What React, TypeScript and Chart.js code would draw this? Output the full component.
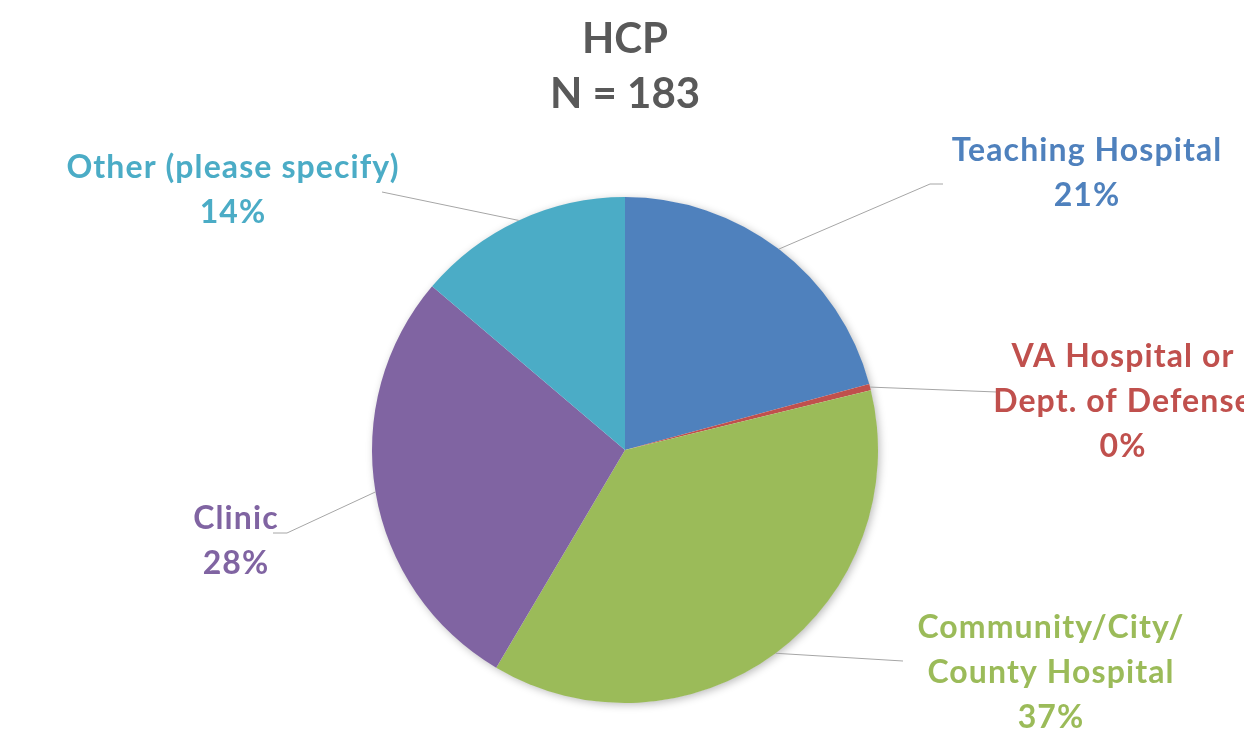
import React, { useEffect, useRef } from "react";
import { Chart, registerables } from "chart.js";

Chart.register(...registerables);

const TITLE_LINES = ["HCP", "N = 183"];
const CATEGORIES = [
  ["Teaching Hospital"],
  ["VA Hospital or", "Dept. of Defense"],
  ["Community/City/", "County Hospital"],
  ["Clinic"],
  ["Other (please specify)"],
];
const VALUES = [20.8, 0.4, 37.3, 27.7, 13.8];
const COLORS = ["#4F81BD", "#C0504D", "#9BBB59", "#8064A2", "#4BACC6"];

// label layout: offsets from pie centre (px)
const LABEL_LAYOUT = [
  { tx: 462, ty: -289, pts: [[305, -266], [318, -266]] },
  { tx: 498, ty: -83, pts: [[372, -58]] },
  { tx: 426, ty: 188, pts: [[278, 211]] },
  { tx: -389, ty: 79, pts: [[-338, 83], [-352, 83]] },
  { tx: -392, ty: -272, pts: [[-243, -258]] },
];

const FONT = "Lato, 'Open Sans', sans-serif";

const labelPlugin = {
  id: "pieLabels",
  beforeDatasetsDraw(chart: any) {
    const meta = chart.getDatasetMeta(0);
    const arc = meta.data[0];
    if (!arc) return;
    const { x, y, outerRadius } = arc.getProps(["x", "y", "outerRadius"], true);
    const ctx = chart.ctx;
    ctx.save();
    ctx.shadowColor = "rgba(0,0,0,0.28)";
    ctx.shadowBlur = 8;
    ctx.shadowOffsetX = 2;
    ctx.shadowOffsetY = 2;
    ctx.fillStyle = "#ffffff";
    ctx.beginPath();
    ctx.arc(x, y, outerRadius - 0.5, 0, Math.PI * 2);
    ctx.fill();
    ctx.restore();
  },
  afterDraw(chart: any) {
    const ctx = chart.ctx;
    const meta = chart.getDatasetMeta(0);
    const total = VALUES.reduce((a, b) => a + b, 0);
    meta.data.forEach((arc: any, i: number) => {
      const { x, y, startAngle, endAngle, outerRadius } = arc.getProps(
        ["x", "y", "startAngle", "endAngle", "outerRadius"],
        true
      );
      const mid = (startAngle + endAngle) / 2;
      const px = x + Math.cos(mid) * outerRadius;
      const py = y + Math.sin(mid) * outerRadius;
      const lay = LABEL_LAYOUT[i];
      ctx.save();
      ctx.strokeStyle = "#a6a6a6";
      ctx.lineWidth = 1;
      ctx.beginPath();
      ctx.moveTo(px, py);
      lay.pts.forEach((p) => ctx.lineTo(x + p[0], y + p[1]));
      ctx.stroke();
      const lines = [...CATEGORIES[i], Math.round((VALUES[i] / total) * 100) + "%"];
      ctx.fillStyle = COLORS[i];
      ctx.font = `bold 32px ${FONT}`;
      (ctx as any).letterSpacing = "1.1px";
      ctx.textAlign = "center";
      ctx.textBaseline = "alphabetic";
      lines.forEach((t, j) => ctx.fillText(t, x + lay.tx, y + lay.ty + j * 45));
      ctx.restore();
    });
    // title
    const cx = (chart.chartArea.left + chart.chartArea.right) / 2;
    ctx.save();
    ctx.fillStyle = "#595959";
    ctx.font = `bold 42px ${FONT}`;
    ctx.textAlign = "center";
    ctx.textBaseline = "alphabetic";
    ctx.fillText(TITLE_LINES[0], cx, 53);
    ctx.fillText(TITLE_LINES[1], cx, 108);
    ctx.restore();
  },
};

export default function App() {
  const ref = useRef<HTMLCanvasElement>(null);
  useEffect(() => {
    if (!ref.current) return;
    const chart = new Chart(ref.current, {
      type: "pie",
      data: {
        labels: CATEGORIES.map((c) => c.join(" ")),
        datasets: [
          {
            data: VALUES,
            backgroundColor: COLORS,
            borderWidth: 0,
          },
        ],
      },
      options: {
        responsive: false,
        animation: false,
        layout: { padding: { top: 197, bottom: 28, left: 6, right: 0 } },
        plugins: {
          legend: { display: false },
          tooltip: { enabled: false },
          title: { display: false },
        },
      },
      plugins: [labelPlugin],
    });
    return () => chart.destroy();
  }, []);
  return (
    <div style={{ position: "fixed", left: 0, top: 0, width: 1244, height: 731, background: "#fff" }}>
      <canvas ref={ref} width={1244} height={731} style={{ display: "block" }} />
    </div>
  );
}
